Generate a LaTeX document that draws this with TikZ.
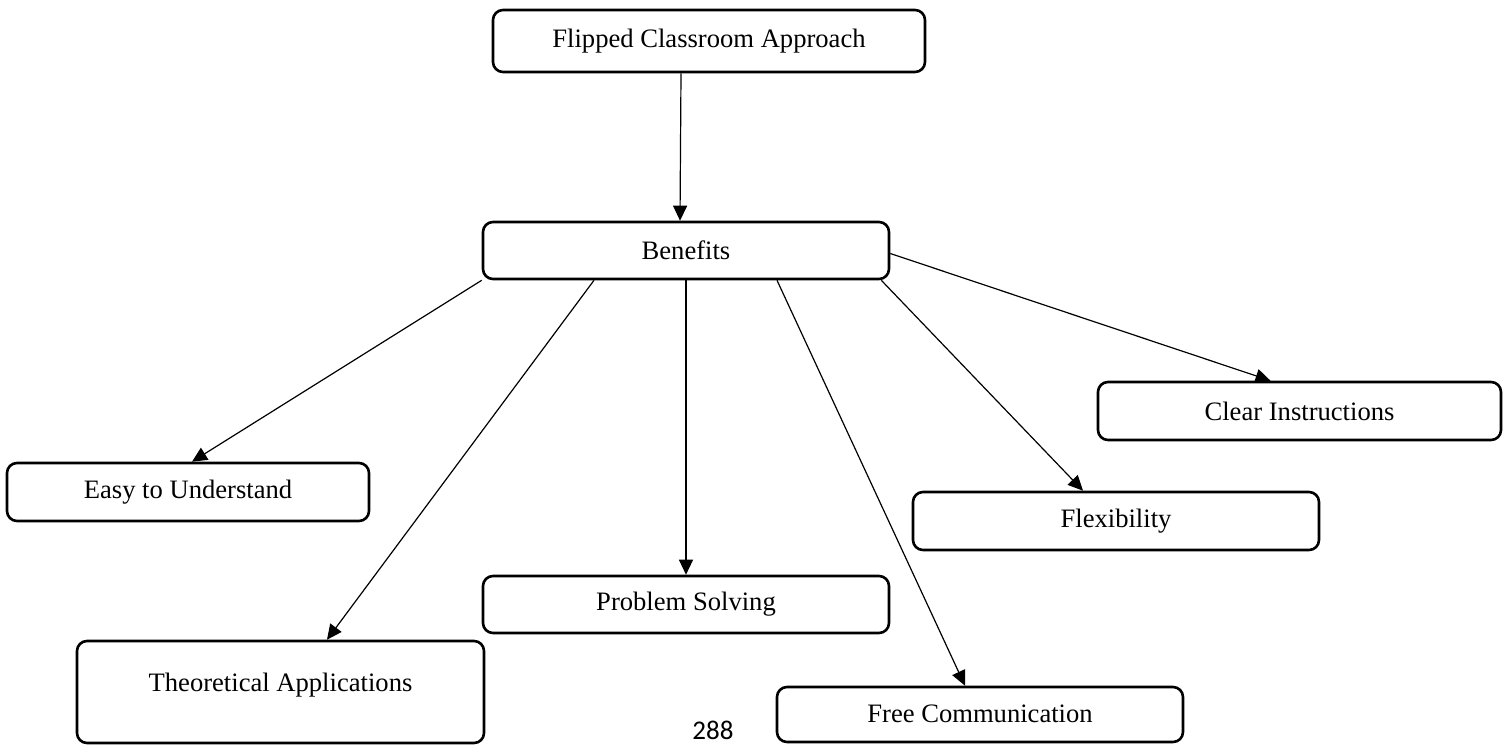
\documentclass[tikz,border=0pt]{standalone}
\usepackage{fontspec}
\setmainfont{Liberation Serif}
\newfontfamily\pagefont{Carlito}
\usetikzlibrary{arrows.meta,calc}
\begin{document}
\begin{tikzpicture}[x=0.5pt,y=-0.5pt,
  box/.style={draw, line width=1.3pt, rounded corners=5pt, inner sep=0pt,
    font=\fontsize{13.3}{16}\selectfont},
  conn/.style={line width=0.6pt, -{Triangle[length=7.5pt,width=7pt]}}]
\useasboundingbox (0,0) rectangle (1503,744);
\node[box, minimum width=216pt, minimum height=31pt] (flip) at (709,41) {Flipped Classroom Approach};
\node[box, minimum width=203pt, minimum height=28.5pt] (ben) at (686,250.5) {Benefits};
\node[box, minimum width=201.5pt, minimum height=29pt] (clear) at (1299.5,411) {Clear Instructions};
\node[box, minimum width=181pt, minimum height=29pt] (easy) at (188,492) {Easy to Understand};
\node[box, minimum width=203pt, minimum height=29pt] (flex) at (1116,521) {Flexibility};
\node[box, minimum width=203pt, minimum height=28.5pt] (prob) at (686,604.5) {Problem Solving};
\node[box, minimum width=203.5pt, minimum height=51pt, text height=9pt, text depth=10pt] (theo) at (280.5,692) {Theoretical Applications};
\node[box, minimum width=203pt, minimum height=27.5pt, text height=9pt, text depth=1pt] (free) at (980,714.5) {Free Communication};
\node[font=\pagefont\fontsize{13.5}{16}\selectfont, inner sep=0pt] (page) at (713,730) {288};

\draw[conn] ($(flip.south)+(-28,0)$) -- ($(ben.north)+(-6,0)$);
\draw[conn] (ben.south west) -- ($(easy.north)+(4,0)$);
\draw[conn] ($(ben.south)+(-92,0)$) -- ($(theo.north)+(46.5,0)$);
\draw[conn] (ben.south) -- (prob.north);
\draw[conn] ($(ben.south)+(91,0)$) -- ($(free.north)+(-15,0)$);
\draw[conn] ($(ben.south east)+(-9,0)$) -- ($(flex.north)+(-33,0)$);
\draw[conn] ($(ben.east)+(0,3)$) -- ($(clear.north)+(-29,0)$);
\end{tikzpicture}
\end{document}
